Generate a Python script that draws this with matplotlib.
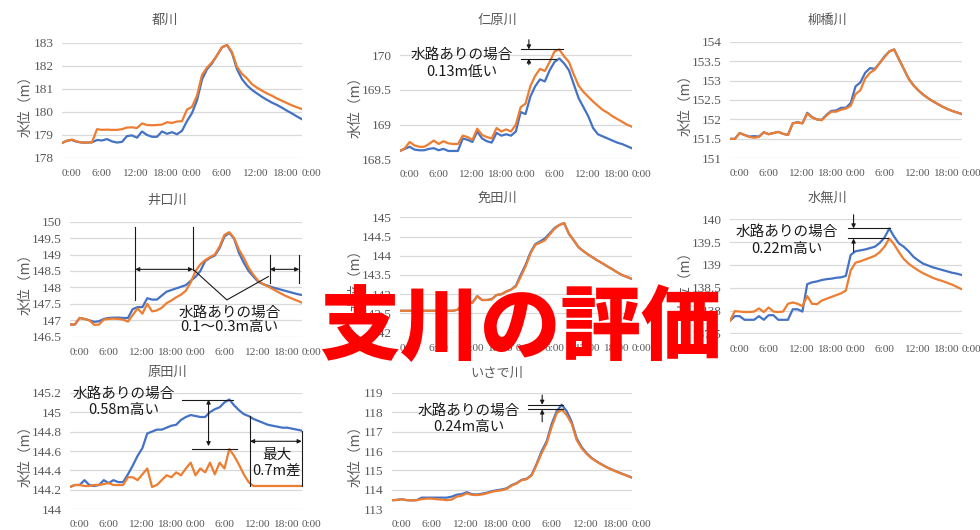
import numpy as np
import matplotlib
matplotlib.use("Agg")
import matplotlib.pyplot as plt

plt.rcParams['font.family'] = ['Noto Sans CJK JP', 'DejaVu Sans']

# ---- time axis (hourly, two days) ----
hours = np.arange(49)
tick_hours = np.arange(0, 49, 6)
tick_labels = ['0:00', '6:00', '12:00', '18:00', '0:00', '6:00', '12:00', '18:00', '0:00']

# ---- water levels (m); blue = with channel, orange = without ----
miyako_blue = [178.65, 178.75, 178.78, 178.70, 178.67, 178.67, 178.68,
               178.78, 178.76, 178.82, 178.72, 178.67, 178.70, 178.95,
               178.98, 178.88, 179.15, 179.00, 178.92, 178.92, 179.15,
               179.05, 179.12, 179.03, 179.18, 179.60, 179.95, 180.50,
               181.40, 181.85, 182.10, 182.45, 182.80, 182.90, 182.55,
               181.85, 181.42, 181.15, 180.95, 180.80, 180.65, 180.52,
               180.40, 180.30, 180.18, 180.05, 179.93, 179.80, 179.68]
miyako_orange = [178.65, 178.75, 178.80, 178.72, 178.67, 178.67, 178.68,
                 179.25, 179.22, 179.23, 179.22, 179.22, 179.25, 179.32,
                 179.33, 179.30, 179.50, 179.43, 179.42, 179.43, 179.45,
                 179.55, 179.52, 179.58, 179.60, 180.10, 180.22, 180.70,
                 181.60, 181.92, 182.15, 182.45, 182.80, 182.90, 182.60,
                 181.95, 181.65, 181.45, 181.20, 181.05, 180.92, 180.80,
                 180.70, 180.58, 180.48, 180.38, 180.28, 180.20, 180.12]

nibaru_blue = [168.62, 168.65, 168.68, 168.64, 168.63, 168.63, 168.65,
               168.66, 168.63, 168.65, 168.62, 168.62, 168.62, 168.80,
               168.78, 168.75, 168.90, 168.80, 168.76, 168.74, 168.88,
               168.84, 168.86, 168.84, 168.90, 169.18, 169.15, 169.40,
               169.55, 169.65, 169.62, 169.78, 169.90, 169.95, 169.88,
               169.78, 169.58, 169.38, 169.25, 169.12, 168.95, 168.86,
               168.83, 168.80, 168.77, 168.74, 168.72, 168.69, 168.66]
nibaru_orange = [168.62, 168.66, 168.75, 168.70, 168.68, 168.68, 168.72,
                 168.77, 168.72, 168.76, 168.73, 168.72, 168.72, 168.84,
                 168.82, 168.78, 168.94, 168.85, 168.82, 168.80, 168.95,
                 168.90, 168.93, 168.90, 169.00, 169.25, 169.30, 169.55,
                 169.70, 169.80, 169.77, 169.90, 170.05, 170.08, 169.98,
                 169.90, 169.72, 169.56, 169.47, 169.40, 169.33, 169.27,
                 169.21, 169.17, 169.12, 169.08, 169.04, 169.00, 168.97]

yanagi_blue = [151.50, 151.50, 151.65, 151.60, 151.56, 151.57, 151.56,
               151.67, 151.62, 151.65, 151.68, 151.63, 151.60, 151.90,
               151.93, 151.90, 152.17, 152.06, 152.00, 151.99, 152.12,
               152.22, 152.23, 152.30, 152.30, 152.42, 152.85, 152.95,
               153.20, 153.32, 153.30, 153.45, 153.62, 153.75, 153.80,
               153.55, 153.30, 153.05, 152.88, 152.75, 152.64, 152.55,
               152.47, 152.40, 152.33, 152.27, 152.22, 152.18, 152.14]
yanagi_orange = [151.50, 151.50, 151.65, 151.60, 151.55, 151.53, 151.55,
                 151.67, 151.62, 151.65, 151.68, 151.63, 151.60, 151.90,
                 151.92, 151.90, 152.15, 152.05, 152.00, 151.98, 152.10,
                 152.20, 152.20, 152.25, 152.28, 152.35, 152.65, 152.75,
                 153.05, 153.20, 153.28, 153.45, 153.60, 153.75, 153.80,
                 153.55, 153.30, 153.05, 152.88, 152.75, 152.64, 152.55,
                 152.47, 152.40, 152.33, 152.27, 152.22, 152.18, 152.14]

iguchi_blue = [146.87, 146.87, 147.07, 147.04, 147.00, 146.95, 146.97,
               147.04, 147.07, 147.08, 147.08, 147.07, 147.07, 147.34,
               147.40, 147.40, 147.67, 147.63, 147.63, 147.75, 147.87,
               147.92, 147.97, 148.02, 148.07, 148.20, 148.32, 148.50,
               148.80, 148.90, 148.97, 149.20, 149.55, 149.66, 149.48,
               149.05, 148.75, 148.50, 148.33, 148.17, 148.10, 148.05,
               148.00, 147.96, 147.92, 147.88, 147.84, 147.80, 147.77]
iguchi_orange = [146.87, 146.87, 147.07, 147.04, 147.00, 146.86, 146.87,
                 147.02, 147.04, 147.05, 147.04, 147.02, 146.96, 147.16,
                 147.36, 147.20, 147.50, 147.27, 147.30, 147.38, 147.52,
                 147.60, 147.70, 147.78, 147.90, 148.15, 148.50, 148.70,
                 148.83, 148.92, 149.00, 149.25, 149.60, 149.68, 149.50,
                 149.15, 148.90, 148.60, 148.38, 148.20, 148.10, 148.03,
                 147.95, 147.87, 147.79, 147.72, 147.66, 147.60, 147.54]

menda_blue = [142.57, 142.57, 142.57, 142.57, 142.57, 142.57, 142.57,
              142.57, 142.57, 142.57, 142.57, 142.57, 142.60, 142.75,
              142.80, 142.78, 142.95, 142.85, 142.85, 142.87, 142.98,
              143.00, 143.07, 143.12, 143.22, 143.50, 143.76, 144.08,
              144.30, 144.37, 144.45, 144.58, 144.72, 144.80, 144.85,
              144.57, 144.40, 144.22, 144.12, 144.03, 143.95, 143.87,
              143.80, 143.72, 143.65, 143.57, 143.50, 143.45, 143.40]
menda_orange = [142.57, 142.57, 142.57, 142.57, 142.57, 142.57, 142.57,
                142.57, 142.57, 142.57, 142.57, 142.57, 142.60, 142.75,
                142.80, 142.78, 142.95, 142.85, 142.85, 142.87, 142.98,
                143.00, 143.07, 143.12, 143.20, 143.45, 143.72, 144.05,
                144.28, 144.34, 144.40, 144.55, 144.70, 144.80, 144.85,
                144.57, 144.40, 144.22, 144.12, 144.03, 143.95, 143.87,
                143.80, 143.72, 143.65, 143.57, 143.50, 143.45, 143.40]

minase_blue = [137.78, 137.88, 137.88, 137.80, 137.80, 137.80, 137.88,
               137.80, 137.90, 137.90, 137.80, 137.80, 137.80, 138.03,
               138.03, 137.98, 138.58, 138.62, 138.64, 138.67, 138.69,
               138.70, 138.72, 138.73, 138.76, 139.22, 139.30, 139.32,
               139.34, 139.37, 139.40, 139.48, 139.60, 139.80, 139.62,
               139.47, 139.40, 139.30, 139.18, 139.10, 139.03, 138.99,
               138.95, 138.92, 138.89, 138.86, 138.83, 138.81, 138.78]
minase_orange = [137.78, 137.99, 137.98, 137.97, 137.97, 137.98, 138.05,
                 137.97, 138.07, 137.98, 137.97, 137.98, 138.15, 138.18,
                 138.15, 138.10, 138.32, 138.15, 138.14, 138.22, 138.26,
                 138.30, 138.34, 138.38, 138.44, 138.88, 139.05, 139.08,
                 139.12, 139.16, 139.20, 139.28, 139.40, 139.58, 139.45,
                 139.28, 139.13, 139.03, 138.95, 138.88, 138.82, 138.77,
                 138.72, 138.68, 138.65, 138.61, 138.57, 138.52, 138.47]

harada_blue = [144.23, 144.25, 144.25, 144.30, 144.25, 144.24, 144.25,
               144.30, 144.27, 144.30, 144.28, 144.28, 144.36, 144.45,
               144.55, 144.63, 144.78, 144.80, 144.82, 144.82, 144.84,
               144.86, 144.87, 144.92, 144.95, 144.97, 144.96, 144.95,
               144.95, 145.00, 145.03, 145.05, 145.10, 145.13, 145.07,
               145.02, 144.98, 144.96, 144.93, 144.91, 144.89, 144.87,
               144.86, 144.85, 144.84, 144.84, 144.83, 144.82, 144.81]
harada_orange = [144.23, 144.25, 144.25, 144.24, 144.24, 144.25, 144.25,
                 144.26, 144.27, 144.25, 144.25, 144.25, 144.33, 144.33,
                 144.30, 144.36, 144.42, 144.23, 144.25, 144.30, 144.35,
                 144.33, 144.38, 144.35, 144.42, 144.48, 144.35, 144.42,
                 144.38, 144.48, 144.36, 144.48, 144.42, 144.62, 144.55,
                 144.46, 144.36, 144.28, 144.24, 144.24, 144.24, 144.24,
                 144.24, 144.24, 144.24, 144.24, 144.24, 144.24, 144.24]

isade_blue = [113.47, 113.48, 113.52, 113.47, 113.46, 113.47, 113.60,
              113.60, 113.60, 113.60, 113.60, 113.60, 113.65, 113.75,
              113.78, 113.88, 113.78, 113.76, 113.80, 113.85, 113.93,
              113.98, 114.02, 114.08, 114.25, 114.35, 114.52, 114.57,
              114.78, 115.35, 116.00, 116.50, 117.40, 118.05, 118.38,
              118.05, 117.50, 116.65, 116.20, 115.88, 115.64, 115.46,
              115.31, 115.17, 115.05, 114.94, 114.84, 114.74, 114.64]
isade_orange = [113.47, 113.48, 113.52, 113.47, 113.46, 113.47, 113.52,
                113.55, 113.55, 113.52, 113.50, 113.47, 113.50, 113.65,
                113.70, 113.82, 113.75, 113.73, 113.76, 113.82, 113.90,
                113.95, 113.98, 114.05, 114.22, 114.33, 114.50, 114.55,
                114.75, 115.30, 115.90, 116.40, 117.25, 117.94, 118.14,
                117.85, 117.40, 116.56, 116.14, 115.85, 115.62, 115.45,
                115.30, 115.16, 115.04, 114.93, 114.83, 114.73, 114.63]

BLUE = '#4472C4'
ORANGE = '#ED7D31'
GREY = '#595959'
GRID = '#D9D9D9'
INK = '#1a1a1a'

W, H = 980, 530
fig = plt.figure(figsize=(W / 100, H / 100), dpi=100)
fig.patch.set_facecolor('white')


def panel(box, ylim, step, title, title_xy, ylabel_x, blue, orange, ytop=None):
    left, right, top, bottom = box
    ax = fig.add_axes([left / W, 1 - bottom / H, (right - left) / W, (bottom - top) / H])
    ymax_tick = ylim[1] if ytop is None else ytop
    yt = np.arange(ylim[0], ymax_tick + 1e-6, step)
    for v in yt:
        ax.axhline(v, color=GRID, lw=0.9, zorder=0)
    ax.plot(hours, blue, color=BLUE, lw=1.6, zorder=2)
    ax.plot(hours, orange, color=ORANGE, lw=1.6, zorder=3)
    ax.set_xlim(0, 48)
    ax.set_ylim(*ylim)
    ax.set_yticks(yt)
    ax.set_yticklabels([f'{v:g}' for v in yt], family='Liberation Serif',
                       fontsize=9.5, color=GREY)
    ax.set_xticks(tick_hours)
    ax.set_xticklabels(tick_labels, family='Liberation Serif', fontsize=8.2,
                       color=GREY, ha='left')
    ax.tick_params(length=0, pad=6)
    ax.tick_params(axis='x', pad=8)
    for s in ax.spines.values():
        s.set_visible(False)
    ax.patch.set_alpha(0)
    fig.text(title_xy[0] / W, 1 - title_xy[1] / H, title, ha='center',
             va='center', fontsize=9.5, color=GREY)
    fig.text(ylabel_x / W, 1 - ((top + bottom) / 2 + 2) / H, '水位（m）',
             rotation=90, ha='center', va='center', fontsize=10, color=GREY)
    return ax


def hline(ax, x0, x1, y):
    ax.plot([x0, x1], [y, y], color=INK, lw=0.8, clip_on=False, zorder=4)


def vline(ax, x, y0, y1):
    ax.plot([x, x], [y0, y1], color=INK, lw=0.8, clip_on=False, zorder=4)


def arrow(ax, x0, y0, x1, y1, style='-|>'):
    ax.annotate('', xy=(x1, y1), xytext=(x0, y0),
                arrowprops=dict(arrowstyle=style, color=INK, lw=0.8,
                                mutation_scale=6, shrinkA=0, shrinkB=0),
                annotation_clip=False, zorder=4)


def note(ax, x, y, s):
    ax.text(x, y, s, ha='center', va='center', fontsize=10.5, color=INK,
            zorder=5, clip_on=False)


# 都川
ax1 = panel((62, 302, 42.7, 158), (178, 183), 1, '都川', (165, 20), 25,
            miyako_blue, miyako_orange)

# 仁原川
ax2 = panel((400, 631.7, 44.6, 159.3), (168.5, 170.15), 0.5, '仁原川', (497, 20), 355,
            nibaru_blue, nibaru_orange, ytop=170.0)
top2, bot2 = max(nibaru_orange), max(nibaru_blue)
hline(ax2, 25, 33.8, top2)
hline(ax2, 25, 32.4, bot2)
arrow(ax2, 26.7, top2 + 0.14, 26.7, top2)
arrow(ax2, 26.7, bot2 - 0.09, 26.7, bot2)
note(ax2, 12.8, 170.0, '水路ありの場合')
note(ax2, 12.8, 169.76, '0.13m低い')

# 柳橋川
ax3 = panel((730, 961.7, 41.7, 158.3), (151, 154), 0.5, '柳橋川', (827, 20), 685,
            yanagi_blue, yanagi_orange)

# 井口川
ax4 = panel((70, 301.7, 221.7, 336.7), (146.5, 150), 0.5, '井口川', (167, 200), 25,
            iguchi_blue, iguchi_orange)
vline(ax4, 13.5, 147.62, 149.85)
vline(ax4, 25.5, 148.53, 149.85)
vline(ax4, 41.4, 148.12, 148.99)
vline(ax4, 47.5, 148.12, 148.99)
arrow(ax4, 13.5, 148.55, 25.5, 148.55, '<|-|>')
arrow(ax4, 41.4, 148.55, 47.5, 148.55, '<|-|>')
ax4.plot([25.5, 32.5, 41.1], [148.55, 147.62, 148.33], color=INK, lw=0.8,
         clip_on=False, zorder=4)
note(ax4, 33.1, 147.21, '水路ありの場合')
note(ax4, 33.1, 146.80, '0.1～0.3m高い')

# 免田川
ax5 = panel((400, 631.7, 217.3, 332.7), (142, 145), 0.5, '免田川', (497, 198), 355,
            menda_blue, menda_orange)

# 水無川
ax6 = panel((730, 961.7, 219.3, 333.5), (137.5, 140), 0.5, '水無川', (827, 198), 685,
            minase_blue, minase_orange)
top6, bot6 = max(minase_blue), max(minase_orange)
hline(ax6, 24.5, 33.1, top6)
hline(ax6, 24.5, 32.8, bot6)
arrow(ax6, 25.6, 140.1, 25.6, top6)
arrow(ax6, 25.6, 139.29, 25.6, bot6)
note(ax6, 11.7, 139.73, '水路ありの場合')
note(ax6, 11.7, 139.34, '0.22m高い')

# 原田川
ax7 = panel((70, 301.7, 392.7, 509.3), (144, 145.2), 0.2, '原田川', (167, 372), 25,
            harada_blue, harada_orange)
top7, bot7 = max(harada_blue), max(harada_orange)
hline(ax7, 23.3, 33.8, top7)
hline(ax7, 25.2, 34.7, bot7)
arrow(ax7, 28.7, bot7 + 0.03, 28.7, top7, '<|-|>')
vline(ax7, 37.3, 144.24, harada_blue[37])
vline(ax7, 48, 144.24, harada_blue[48])
arrow(ax7, 37.3, 144.70, 48, 144.70, '<|-|>')
note(ax7, 11.05, 145.19, '水路ありの場合')
note(ax7, 11.05, 145.02, '0.58m高い')
note(ax7, 42.8, 144.56, '最大')
note(ax7, 42.8, 144.40, '0.7m差')

# いさで川
ax8 = panel((391.7, 631.7, 392.7, 509.3), (113, 119), 1, 'いさで川', (497, 373), 355,
            isade_blue, isade_orange)
top8, bot8 = max(isade_blue), max(isade_orange)
hline(ax8, 27.3, 34.3, top8)
hline(ax8, 27.3, 34.3, bot8)
arrow(ax8, 30.1, 118.88, 30.1, top8)
arrow(ax8, 30.1, 117.5, 30.1, bot8)
note(ax8, 15.4, 118.07, '水路ありの場合')
note(ax8, 15.4, 117.25, '0.24m高い')

# headline over the grid of charts
fig.text(520 / W, 1 - 329 / H, '支川の評価', ha='center', va='center',
         fontsize=58, fontweight='black', color='#FF0000', zorder=10)

fig.savefig('out.png', dpi=100, facecolor='white')
